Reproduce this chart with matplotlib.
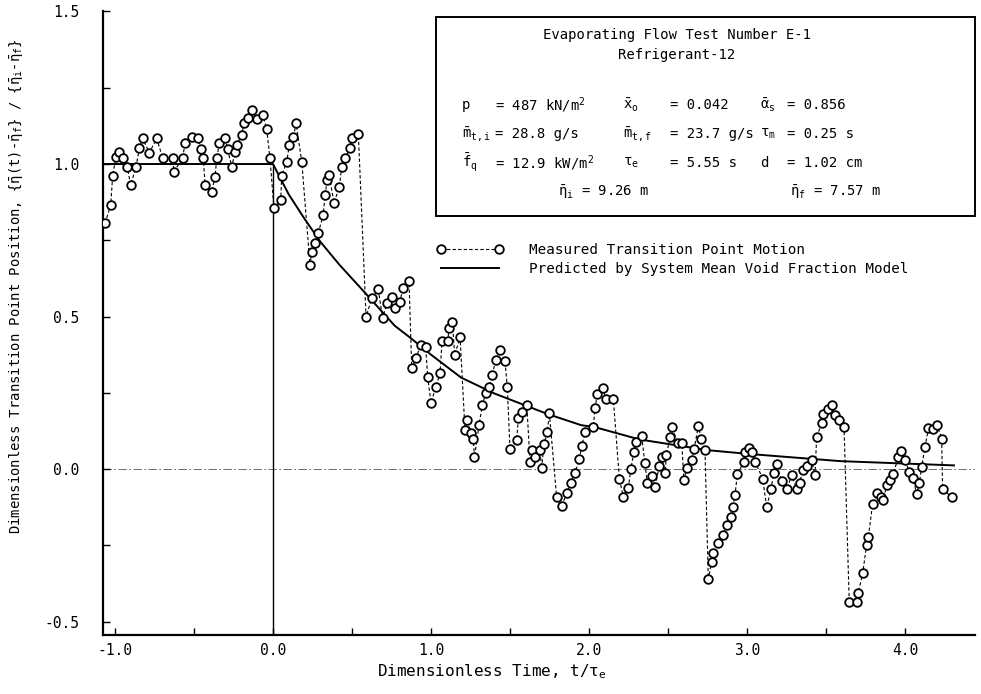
import matplotlib
matplotlib.use("Agg")
import matplotlib.pyplot as plt
from matplotlib.lines import Line2D
from matplotlib.patches import Rectangle

plt.rcParams['font.family'] = ['DejaVu Sans Mono']
plt.rcParams['mathtext.fontset'] = 'custom'
plt.rcParams['mathtext.rm'] = 'DejaVu Sans Mono'
plt.rcParams['mathtext.it'] = 'DejaVu Sans Mono'
plt.rcParams['mathtext.bf'] = 'DejaVu Sans Mono'

# measured transition point motion
meas_t = [-1.063, -1.027, -1.015, -0.994, -0.973, -0.947, -0.922, -0.901, -0.867, -0.846,
          -0.825, -0.783, -0.736, -0.698, -0.635, -0.627, -0.572, -0.557, -0.515, -0.473,
          -0.458, -0.441, -0.430, -0.388, -0.367, -0.356, -0.340, -0.304, -0.287, -0.261,
          -0.241, -0.230, -0.198, -0.184, -0.156, -0.131, -0.103, -0.065, -0.040, -0.019,
          0.006, 0.049, 0.055, 0.087, 0.103, 0.129, 0.146, 0.182, 0.234, 0.245,
          0.266, 0.287, 0.318, 0.329, 0.344, 0.356, 0.386, 0.420, 0.435, 0.456,
          0.487, 0.498, 0.540, 0.589, 0.625, 0.666, 0.694, 0.720, 0.751, 0.772,
          0.804, 0.821, 0.861, 0.878, 0.903, 0.937, 0.966, 0.979, 1.000, 1.030,
          1.057, 1.070, 1.106, 1.115, 1.135, 1.150, 1.184, 1.215, 1.230, 1.255,
          1.268, 1.275, 1.304, 1.325, 1.346, 1.367, 1.388, 1.409, 1.437, 1.468,
          1.483, 1.500, 1.542, 1.553, 1.578, 1.606, 1.627, 1.641, 1.660, 1.690,
          1.700, 1.715, 1.736, 1.749, 1.795, 1.827, 1.859, 1.884, 1.911, 1.939,
          1.954, 1.975, 2.027, 2.038, 2.053, 2.087, 2.108, 2.154, 2.192, 2.217,
          2.249, 2.264, 2.285, 2.297, 2.333, 2.354, 2.369, 2.400, 2.418, 2.445,
          2.460, 2.481, 2.490, 2.513, 2.523, 2.565, 2.587, 2.601, 2.618, 2.650,
          2.665, 2.692, 2.710, 2.734, 2.755, 2.776, 2.787, 2.818, 2.850, 2.875,
          2.897, 2.909, 2.924, 2.939, 2.981, 2.987, 3.010, 3.034, 3.051, 3.099,
          3.125, 3.150, 3.171, 3.188, 3.220, 3.251, 3.283, 3.315, 3.335, 3.352,
          3.380, 3.409, 3.430, 3.441, 3.473, 3.483, 3.510, 3.536, 3.557, 3.585,
          3.614, 3.647, 3.698, 3.704, 3.732, 3.757, 3.768, 3.795, 3.825, 3.845,
          3.863, 3.884, 3.905, 3.926, 3.958, 3.973, 4.000, 4.027, 4.050, 4.074,
          4.090, 4.106, 4.127, 4.148, 4.175, 4.204, 4.232, 4.238, 4.295]
meas_v = [0.806, 0.866, 0.961, 1.024, 1.040, 1.019, 0.989, 0.931, 0.991, 1.051,
          1.084, 1.037, 1.084, 1.019, 1.019, 0.975, 1.019, 1.068, 1.089, 1.084,
          1.048, 1.019, 0.931, 0.909, 0.958, 1.019, 1.068, 1.084, 1.048, 0.991,
          1.040, 1.062, 1.095, 1.133, 1.150, 1.177, 1.147, 1.161, 1.114, 1.019,
          0.855, 0.882, 0.961, 1.008, 1.062, 1.089, 1.133, 1.008, 0.669, 0.712,
          0.740, 0.775, 0.833, 0.898, 0.948, 0.964, 0.872, 0.926, 0.991, 1.019,
          1.051, 1.084, 1.100, 0.499, 0.560, 0.589, 0.494, 0.543, 0.565, 0.527,
          0.549, 0.592, 0.617, 0.330, 0.363, 0.407, 0.401, 0.301, 0.217, 0.268,
          0.314, 0.421, 0.421, 0.464, 0.483, 0.374, 0.432, 0.128, 0.161, 0.117,
          0.097, 0.038, 0.144, 0.210, 0.248, 0.268, 0.308, 0.357, 0.390, 0.355,
          0.268, 0.065, 0.095, 0.166, 0.188, 0.210, 0.024, 0.062, 0.040, 0.062,
          0.002, 0.082, 0.122, 0.183, -0.091, -0.121, -0.080, -0.047, -0.012, 0.032,
          0.075, 0.122, 0.139, 0.199, 0.246, 0.265, 0.229, 0.229, -0.031, -0.091,
          -0.063, -0.001, 0.057, 0.090, 0.108, 0.019, -0.045, -0.023, -0.058, 0.010,
          0.040, -0.014, 0.046, 0.106, 0.137, 0.084, 0.084, -0.036, 0.002, 0.030,
          0.065, 0.141, 0.100, 0.062, -0.362, -0.304, -0.276, -0.244, -0.216, -0.185,
          -0.158, -0.124, -0.085, -0.016, 0.024, 0.057, 0.070, 0.057, 0.024, -0.031,
          -0.126, -0.067, -0.014, 0.016, -0.040, -0.067, -0.020, -0.067, -0.045, -0.003,
          0.010, 0.030, -0.020, 0.106, 0.150, 0.180, 0.197, 0.210, 0.177, 0.160,
          0.139, -0.435, -0.435, -0.405, -0.342, -0.249, -0.222, -0.115, -0.080, -0.090,
          -0.102, -0.052, -0.035, -0.016, 0.040, 0.060, 0.030, -0.009, -0.030, -0.082,
          -0.047, 0.008, 0.073, 0.133, 0.130, 0.144, 0.100, -0.067, -0.091]

# system mean void fraction model curve
pred_t = [-1.076, 0.0, 0.1, 0.2, 0.3, 0.42, 0.57, 0.77, 0.87, 1.0, 1.19, 1.4,
          1.74, 1.95, 2.04, 2.32, 2.75, 3.0, 3.59, 4.31]
pred_v = [1.0, 1.0, 0.90, 0.82, 0.745, 0.67, 0.585, 0.47, 0.43, 0.375, 0.30, 0.248,
          0.180, 0.144, 0.137, 0.097, 0.062, 0.05, 0.026, 0.012]

W, H = 981, 694
fig = plt.figure(figsize=(W / 100, H / 100), dpi=100)
ax = fig.add_axes([103 / W, 1 - 635 / H, 872 / W, 623.5 / H])


def fp(x, y):
    return x / W, 1 - y / H


ax.axhline(0, color='#555555', lw=0.6, ls=(0, (10, 3, 2, 3)), zorder=1)
ax.vlines(0, -0.544, 1.0, color='black', lw=1.0, zorder=2)
ax.plot(pred_t, pred_v, color='black', lw=1.4, zorder=3)
ax.plot(meas_t, meas_v, color='black', lw=0.8, ls=(0, (3, 2)),
        marker='o', ms=6.2, mfc='white', mec='black', mew=1.3, zorder=4)

ax.set_xlim(-1.076, 4.443)
ax.set_ylim(-0.544, 1.5)
for s in ['top', 'right']:
    ax.spines[s].set_visible(False)
for s in ['left', 'bottom']:
    ax.spines[s].set_linewidth(1.6)

ax.set_xticks([-1.0, 0.0, 1.0, 2.0, 3.0, 4.0])
ax.set_xticklabels(['-1.0', '0.0', '1.0', '2.0', '3.0', '4.0'])
ax.set_xticks([-0.5, 0.5, 1.5, 2.5, 3.5], minor=True)
ax.set_yticks([-0.5, 0.0, 0.5, 1.0, 1.5])
ax.set_yticklabels(['-0.5', '0.0', '0.5', '1.0', '1.5'])
ax.set_yticks([-0.25, 0.25, 0.75, 1.25], minor=True)
ax.tick_params(which='both', direction='in', length=5, width=1.0, labelsize=10.5)
ax.tick_params(axis='x', which='both', pad=6)
ax.tick_params(axis='y', which='both', pad=17)

ax.set_xlabel(r'Dimensionless Time, t/$\tau_{\mathrm{e}}$', fontsize=11.5)
ax.xaxis.set_label_coords(0.446, -0.043)
ax.set_ylabel(r'Dimensionless Transition Point Position, '
              r'$\{\bar{\eta}(\mathrm{t})$-$\bar{\eta}_{\mathrm{f}}\}$ / '
              r'$\{\bar{\eta}_{\mathrm{i}}$-$\bar{\eta}_{\mathrm{f}}\}$', fontsize=10)
ax.yaxis.set_label_coords(-0.089, 0.56)

# information box
fig.add_artist(Rectangle(fp(436, 216), (975 - 436) / W, (216 - 17) / H,
                         transform=fig.transFigure, fill=False, lw=1.4, ec='black'))
fig.text(*fp(677, 35), 'Evaporating Flow Test Number E-1', ha='center', va='center', fontsize=10)
fig.text(*fp(677, 55), 'Refrigerant-12', ha='center', va='center', fontsize=10)

rows = [
    (105, [(462, r'p'), (495, r'= 487 kN/m$^2$'), (623, r'$\bar{\mathrm{x}}_{\mathrm{o}}$'),
           (670, '= 0.042'), (760, r'$\bar{\alpha}_{\mathrm{s}}$'), (787, '= 0.856')]),
    (134, [(462, r'$\bar{\mathrm{m}}_{\mathrm{t,i}}$'), (495, '= 28.8 g/s'),
           (623, r'$\bar{\mathrm{m}}_{\mathrm{t,f}}$'), (670, '= 23.7 g/s'),
           (760, r'$\tau_{\mathrm{m}}$'), (787, '= 0.25 s')]),
    (163, [(462, r'$\bar{\mathrm{f}}_{\mathrm{q}}$'), (495, r'= 12.9 kW/m$^2$'),
           (623, r'$\tau_{\mathrm{e}}$'), (670, '= 5.55 s'),
           (760, 'd'), (787, '= 1.02 cm')]),
    (192, [(558, r'$\bar{\eta}_{\mathrm{i}}$ = 9.26 m'),
           (790, r'$\bar{\eta}_{\mathrm{f}}$ = 7.57 m')]),
]
for y, items in rows:
    for x, s in items:
        fig.text(*fp(x, y), s, ha='left', va='center', fontsize=10)

handles = [Line2D([], [], color='black', lw=0.8, ls=(0, (3, 2)), marker='o', ms=6.2,
                  mfc='white', mec='black', mew=1.3),
           Line2D([], [], color='black', lw=1.4)]
ax.legend(handles, ['Measured Transition Point Motion',
                    'Predicted by System Mean Void Fraction Model'],
          loc='upper left', bbox_to_anchor=fp(437, 243), bbox_transform=fig.transFigure,
          frameon=False, fontsize=10.3, handlelength=4.6, handletextpad=1.8,
          labelspacing=0.35, borderpad=0, borderaxespad=0, numpoints=2)

fig.savefig('out.png', dpi=100)
